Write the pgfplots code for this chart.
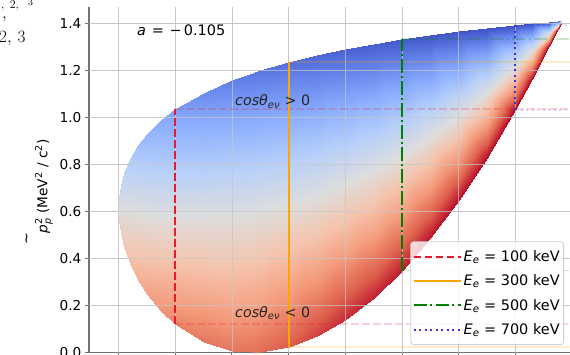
\documentclass[border=0pt]{standalone}
\usepackage{fontspec}
\setmainfont{DejaVu Sans}
\usepackage{amsmath}
\usepackage{pgfplots}
\pgfplotsset{compat=1.18}
\usepackage{pgfplotstable}

\definecolor{lred}{RGB}{235,25,45}
\definecolor{lorange}{RGB}{255,165,0}
\definecolor{lgreen}{RGB}{0,128,0}
\definecolor{lblue}{RGB}{60,50,220}
\newcommand{\fs}{\fontsize{13.7}{16}\selectfont}
\newcommand{\fl}{\fontsize{14.5}{17}\selectfont}

% kinematic region: for each T_e the rows are cos=-1, 0, +1 ; c = colour value
\pgfplotstableread{
x y c
0 0.611524 0
0 0.611524 0
0 0.611524 0
0.001 0.561031 0.0625
0.001 0.610984 0
0.001 0.660937 -0.0625
0.004 0.509707 0.1244
0.004 0.609388 0
0.004 0.709068 -0.1244
0.01 0.449453 0.1950
0.01 0.606304 0
0.01 0.763154 -0.1950
0.02 0.381478 0.2719
0.02 0.601484 0
0.02 0.821490 -0.2719
0.035 0.307647 0.3523
0.035 0.595004 0
0.035 0.882361 -0.3523
0.05 0.250483 0.4127
0.05 0.589424 0
0.05 0.928365 -0.4127
0.075 0.176537 0.4895
0.075 0.582124 0
0.075 0.987712 -0.4895
0.1 0.120435 0.5482
0.1 0.577324 0
0.1 1.034214 -0.5482
0.15 0.045248 0.6000
0.15 0.575224 0
0.15 1.105200 -0.6343
0.2 0.007679 0.6000
0.2 0.583124 0
0.2 1.158568 -0.6953
0.2365 0.000000 0.6200
0.2365 0.595205 0
0.2365 1.190410 -0.7299
0.25 0.001019 0.6400
0.25 0.601024 0
0.25 1.201030 -0.7410
0.3 0.021834 0.7000
0.3 0.628924 0
0.3 1.236015 -0.7765
0.35 0.068103 0.7700
0.35 0.666824 0
0.35 1.265546 -0.8048
0.4 0.138524 0.8279
0.4 0.714724 0
0.4 1.290923 -0.8279
0.45 0.232208 0.8469
0.45 0.772624 0
0.45 1.313041 -0.8469
0.5 0.348518 0.8629
0.5 0.840524 0
0.5 1.332533 -0.8629
0.55 0.486979 0.8764
0.55 0.918424 0
0.55 1.349870 -0.8764
0.6 0.647235 0.8880
0.6 1.006324 0
0.6 1.365413 -0.8880
0.65 0.829005 0.8979
0.65 1.104224 0
0.65 1.379443 -0.8979
0.7 1.032067 0.9066
0.7 1.212124 0
0.7 1.392180 -0.9066
0.73 1.164049 0.9113
0.73 1.281664 0
0.73 1.399278 -0.9113
0.76 1.303600 0.9156
0.76 1.354804 0
0.76 1.406010 -0.9156
0.775 1.376204 0.9177
0.775 1.392724 0
0.775 1.409247 -0.9177
0.782 1.410728 0.9186
0.782 1.410728 0
0.782 1.410728 -0.9186
}\regiontable

\begin{document}
\begin{tikzpicture}
\useasboundingbox (-89bp,-2.5bp) rectangle (481bp,352.5bp);
\clip (-89bp,-2.5bp) rectangle (481bp,352.5bp);
\begin{axis}[
  at={(0,0)}, anchor=south west,
  scale only axis, width=483.1bp, height=345.4bp,
  xmin=-0.052, xmax=0.8, ymin=0, ymax=1.469,
  axis x line*=bottom, axis y line*=left,
  axis line style={-, draw=black!55, line width=1.1bp},
  xtick={0,0.1,0.2,0.3,0.4,0.5,0.6,0.7,0.8}, xticklabels={},
  ytick={0,0.2,0.4,0.6,0.8,1.0,1.2,1.4},
  /pgf/number format/assume math mode=true,
  yticklabel style={/pgf/number format/fixed, /pgf/number format/fixed zerofill, /pgf/number format/precision=1, font=\fs, inner sep=0pt, xshift=-4bp},
  tick align=outside, major tick length=3.5bp,
  tick style={draw=black!55, line width=0.9bp},
  grid=major, grid style={draw=black!20, line width=0.7bp},
  colormap={coolwarm}{rgb255=(59,76,192) rgb255=(98,130,234) rgb255=(141,176,254) rgb255=(184,208,249) rgb255=(221,221,221) rgb255=(245,196,173) rgb255=(244,154,123) rgb255=(222,96,77) rgb255=(180,4,38)},
  point meta min=-0.92, point meta max=0.92,
  ylabel={$\textit{p}_{\textit{p}}^{\text{2}}$ (MeV$^{\text{2}}$ / c$^{\text{2}}$)},
  ylabel style={at={(axis description cs:-0.093,0.481)}, anchor=center, font=\fs},
  legend style={at={(axis description cs:0.9833,0.0217)}, anchor=south east, draw=black!18, line width=0.8bp, rounded corners=3bp, fill=white, fill opacity=0.8, text opacity=1, font=\fl, inner xsep=2bp, inner ysep=6.5bp, row sep=8bp},
  legend cell align=left,
  legend image code/.code={\draw[#1] (0bp,0bp) -- (30bp,0bp); \path (0bp,0bp) -- (47bp,0bp);},
]
\addplot[patch, patch type=rectangle, shader=interp, point meta=explicit, forget plot,
  table/row sep=\\,
  patch table={
0 3 4 1\\ 1 4 5 2\\
3 6 7 4\\ 4 7 8 5\\
6 9 10 7\\ 7 10 11 8\\
9 12 13 10\\ 10 13 14 11\\
12 15 16 13\\ 13 16 17 14\\
15 18 19 16\\ 16 19 20 17\\
18 21 22 19\\ 19 22 23 20\\
21 24 25 22\\ 22 25 26 23\\
24 27 28 25\\ 25 28 29 26\\
27 30 31 28\\ 28 31 32 29\\
30 33 34 31\\ 31 34 35 32\\
33 36 37 34\\ 34 37 38 35\\
36 39 40 37\\ 37 40 41 38\\
39 42 43 40\\ 40 43 44 41\\
42 45 46 43\\ 43 46 47 44\\
45 48 49 46\\ 46 49 50 47\\
48 51 52 49\\ 49 52 53 50\\
51 54 55 52\\ 52 55 56 53\\
54 57 58 55\\ 55 58 59 56\\
57 60 61 58\\ 58 61 62 59\\
60 63 64 61\\ 61 64 65 62\\
63 66 67 64\\ 64 67 68 65\\
66 69 70 67\\ 67 70 71 68\\
69 72 73 70\\ 70 73 74 71\\
72 75 76 73\\ 73 76 77 74\\
}] table[x=x, y=y, meta=c] {\regiontable};

% grid lines visible over the filled region
\draw[black!22, opacity=0.7, line width=0.7bp] (axis cs:0.0,0) -- (axis cs:0.0,1.469);
\draw[black!22, opacity=0.7, line width=0.7bp] (axis cs:0.1,0) -- (axis cs:0.1,1.469);
\draw[black!22, opacity=0.7, line width=0.7bp] (axis cs:0.2,0) -- (axis cs:0.2,1.469);
\draw[black!22, opacity=0.7, line width=0.7bp] (axis cs:0.3,0) -- (axis cs:0.3,1.469);
\draw[black!22, opacity=0.7, line width=0.7bp] (axis cs:0.4,0) -- (axis cs:0.4,1.469);
\draw[black!22, opacity=0.7, line width=0.7bp] (axis cs:0.5,0) -- (axis cs:0.5,1.469);
\draw[black!22, opacity=0.7, line width=0.7bp] (axis cs:0.6,0) -- (axis cs:0.6,1.469);
\draw[black!22, opacity=0.7, line width=0.7bp] (axis cs:0.7,0) -- (axis cs:0.7,1.469);
\draw[black!22, opacity=0.7, line width=0.7bp] (axis cs:-0.052,0.2) -- (axis cs:0.8,0.2);
\draw[black!22, opacity=0.7, line width=0.7bp] (axis cs:-0.052,0.4) -- (axis cs:0.8,0.4);
\draw[black!22, opacity=0.7, line width=0.7bp] (axis cs:-0.052,0.6) -- (axis cs:0.8,0.6);
\draw[black!22, opacity=0.7, line width=0.7bp] (axis cs:-0.052,0.8) -- (axis cs:0.8,0.8);
\draw[black!22, opacity=0.7, line width=0.7bp] (axis cs:-0.052,1.0) -- (axis cs:0.8,1.0);
\draw[black!22, opacity=0.7, line width=0.7bp] (axis cs:-0.052,1.2) -- (axis cs:0.8,1.2);
\draw[black!22, opacity=0.7, line width=0.7bp] (axis cs:-0.052,1.4) -- (axis cs:0.8,1.4);

\addplot[lred, opacity=0.2, line width=1.8bp, dash pattern=on 7.7bp off 3.3bp, forget plot] coordinates {(0.1,1.034214) (0.85,1.034214)};
\addplot[lred, opacity=0.2, line width=1.8bp, dash pattern=on 7.7bp off 3.3bp, forget plot] coordinates {(0.1,0.120435) (0.85,0.120435)};
\addplot[lorange, opacity=0.2, line width=1.8bp, forget plot] coordinates {(0.3,1.236015) (0.85,1.236015)};
\addplot[lorange, opacity=0.2, line width=1.8bp, forget plot] coordinates {(0.3,0.021834) (0.85,0.021834)};
\addplot[lgreen, opacity=0.2, line width=1.8bp, dash pattern=on 13.3bp off 3.3bp on 2.1bp off 3.3bp, forget plot] coordinates {(0.5,1.332533) (0.85,1.332533)};
\addplot[lgreen, opacity=0.2, line width=1.8bp, dash pattern=on 13.3bp off 3.3bp on 2.1bp off 3.3bp, forget plot] coordinates {(0.5,0.348518) (0.85,0.348518)};
\addplot[lblue, opacity=0.2, line width=1.8bp, dash pattern=on 2.1bp off 3.4bp, forget plot] coordinates {(0.7,1.392180) (0.85,1.392180)};
\addplot[lblue, opacity=0.2, line width=1.8bp, dash pattern=on 2.1bp off 3.4bp, forget plot] coordinates {(0.7,1.032067) (0.85,1.032067)};

\addplot[lred, line width=2bp, dash pattern=on 7.7bp off 3.3bp] coordinates {(0.1,0.120435) (0.1,1.034214)};
\addlegendentry{\textit{E}\textsubscript{\textit{e}} = 100 keV}
\addplot[lorange, line width=2bp] coordinates {(0.3,0.021834) (0.3,1.236015)};
\addlegendentry{\textit{E}\textsubscript{\textit{e}} = 300 keV}
\addplot[lgreen, line width=2bp, dash pattern=on 13.3bp off 3.3bp on 2.1bp off 3.3bp] coordinates {(0.5,0.348518) (0.5,1.332533)};
\addlegendentry{\textit{E}\textsubscript{\textit{e}} = 500 keV}
\addplot[lblue, line width=2bp, dash pattern=on 2.1bp off 3.4bp] coordinates {(0.7,1.032067) (0.7,1.392180)};
\addlegendentry{\textit{E}\textsubscript{\textit{e}} = 700 keV}

\node[anchor=west, font=\fl, inner sep=0pt] at (axis cs:0.0326,1.372) {\textit{a}\hspace{0.4em}=\hspace{0.4em}−\hspace{0.15em}0.105};
\node[anchor=base west, font=\fontsize{14.3}{17}\selectfont, inner sep=0pt, text=black!85] at (axis cs:0.2055,1.0485) {\textit{cosθ}\textsubscript{\textit{eν}} > 0};
\node[anchor=base west, font=\fontsize{14.3}{17}\selectfont, inner sep=0pt, text=black!85] at (axis cs:0.2055,0.150) {\textit{cosθ}\textsubscript{\textit{eν}} < 0};
\end{axis}
% mark left of the y label
\node[rotate=90, inner sep=0pt] at (-61bp,114bp) {\fontsize{14}{14}\selectfont\textasciitilde};
% cut-off fragments at the top left
\node[anchor=base west, inner sep=0pt] at (-90bp,310bp) {\fontsize{16}{16}\selectfont $2,\,3$};
\node[anchor=base west, inner sep=0pt] at (-87bp,333.5bp) {\fontsize{16}{16}\selectfont $,$};
\node[anchor=base west, inner sep=0pt] at (-88bp,343.5bp) {\fontsize{13}{13}\selectfont $,\;2,$};
\node[anchor=base west, inner sep=0pt] at (-61bp,347bp) {\fontsize{10}{10}\selectfont $3$};
\end{tikzpicture}
\end{document}
